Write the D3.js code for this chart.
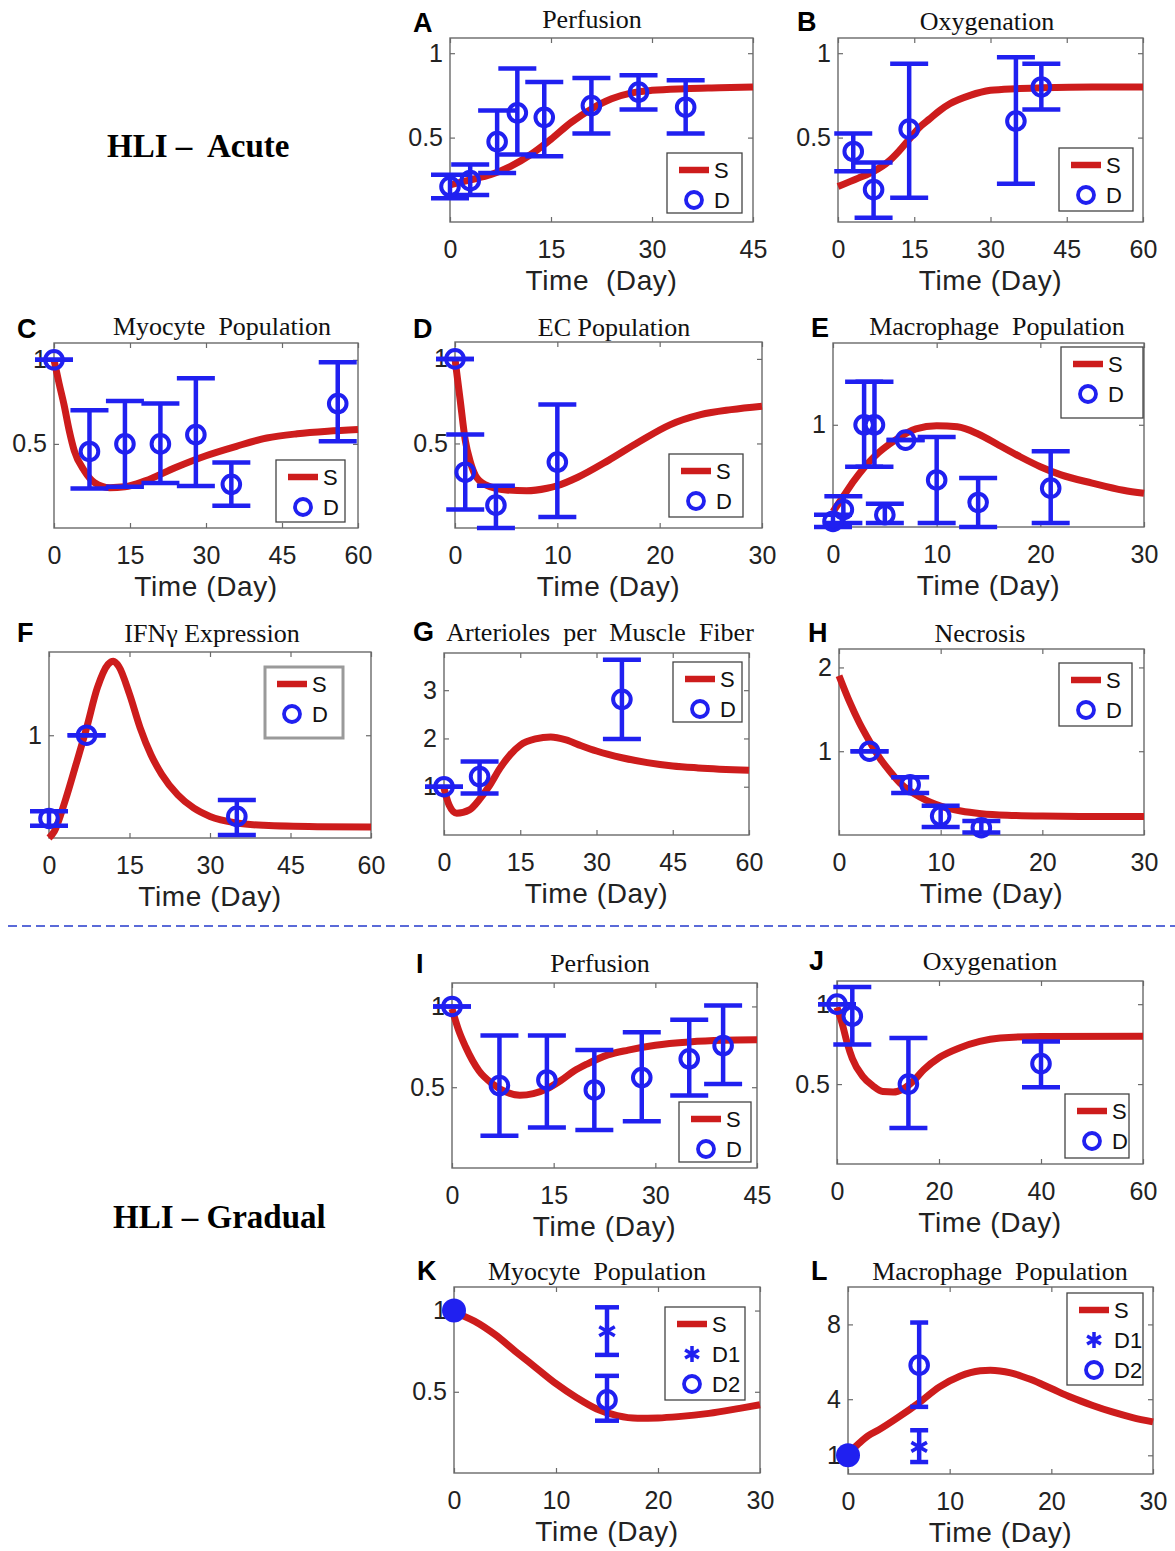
<!DOCTYPE html>
<html>
<head>
<meta charset="utf-8">
<script src="https://cdn.jsdelivr.net/npm/d3@7"></script>
<style>
  body { margin: 0; background: #fff; }
  svg text { white-space: pre; }
</style>
</head>
<body>
<svg id="fig" width="1175" height="1551"></svg>
<script>
/* global d3 */

// ---- data: simulation curves [day, value] and data points [day, mean, low, high] ----

var perfAcuteSim = [[0, 0.22], [3, 0.25], [6, 0.28], [9, 0.33], [12, 0.40], [15, 0.49], [18, 0.59],
  [21, 0.67], [24, 0.73], [27, 0.765], [30, 0.78], [35, 0.79], [40, 0.795], [45, 0.80]]
var perfAcuteData = [[0, 0.21, 0.14, 0.28], [3, 0.245, 0.16, 0.34], [7, 0.476, 0.29, 0.66],
  [10, 0.647, 0.40, 0.91], [14, 0.62, 0.39, 0.83], [21, 0.69, 0.525, 0.853],
  [28, 0.77, 0.667, 0.87], [35, 0.68, 0.525, 0.84]]

var oxyAcuteSim = [[0, 0.21], [4, 0.26], [7, 0.30], [10, 0.36], [12, 0.42], [14, 0.49], [16, 0.56],
  [18, 0.61], [20, 0.66], [22, 0.70], [26, 0.75], [30, 0.78], [35, 0.79], [40, 0.795], [50, 0.80], [60, 0.80]]
var oxyAcuteData = [[3, 0.418, 0.30, 0.525], [7, 0.192, 0.025, 0.353], [14, 0.55, 0.143, 0.937],
  [35, 0.598, 0.227, 0.976], [40, 0.80, 0.667, 0.937]]

var myoAcuteSim = [[0, 1.0], [1, 0.86], [2, 0.73], [3, 0.58], [4, 0.46], [6, 0.34], [8, 0.27], [11, 0.24],
  [14, 0.245], [18, 0.28], [24, 0.36], [30, 0.43], [36, 0.486], [42, 0.535], [48, 0.56], [54, 0.575], [60, 0.585]]
var myoAcuteData = [[0, 1, 1, 1], [7, 0.455, 0.235, 0.70], [14, 0.50, 0.245, 0.755], [21, 0.50, 0.267, 0.74],
  [28, 0.555, 0.25, 0.89], [35, 0.26, 0.133, 0.39], [56, 0.74, 0.516, 0.986]]

var ecAcuteSim = [[0, 1.0], [0.5, 0.76], [1, 0.52], [1.5, 0.39], [2, 0.31], [3, 0.255], [5, 0.225], [7, 0.22],
  [9, 0.235], [10, 0.25], [12, 0.30], [15, 0.40], [18, 0.51], [21, 0.61], [24, 0.67], [27, 0.70], [30, 0.72]]
var ecAcuteData = [[0, 1, 1, 1], [1, 0.33, 0.11, 0.553], [4, 0.135, 0, 0.25], [10, 0.39, 0.065, 0.73]]

var macAcuteSim = [[0, 0.15], [1, 0.30], [2, 0.45], [3, 0.58], [4, 0.69], [6, 0.85], [8, 0.96], [10, 0.99],
  [12, 0.98], [14, 0.91], [16, 0.80], [18, 0.69], [20, 0.59], [22, 0.51], [25, 0.43], [28, 0.36], [30, 0.33]]
var macAcuteData = [[0, 0.055, 0, 0.12], [1, 0.17, 0.04, 0.30], [3, 1.0, 0.59, 1.42], [4, 1.0, 0.59, 1.42],
  [5, 0.12, 0.04, 0.227], [7, 0.85, 0.85, 0.85], [10, 0.46, 0.04, 0.88], [14, 0.24, 0, 0.48], [21, 0.38, 0.04, 0.74]]

var ifnSim = [[0, 0], [1, 0.065], [3, 0.36], [5, 0.71], [7, 1.07], [9, 1.46], [11, 1.69], [12, 1.72], [13, 1.67],
  [15, 1.40], [17, 1.07], [19, 0.81], [21, 0.62], [24, 0.42], [27, 0.29], [30, 0.21], [35, 0.146], [40, 0.123],
  [50, 0.11], [60, 0.107]]
var ifnData = [[0, 0.19, 0.12, 0.26], [7, 1.0, 1.0, 1.0], [35, 0.21, 0.03, 0.37]]

var artSim = [[0, 0.97], [1, 0.62], [2.5, 0.45], [5, 0.52], [7, 0.74], [9, 1.03], [11, 1.38], [13, 1.66],
  [15, 1.86], [18, 1.99], [21, 2.03], [24, 1.97], [27, 1.85], [30, 1.74], [35, 1.60], [40, 1.50], [45, 1.43],
  [50, 1.39], [60, 1.34]]
var artData = [[0, 1.0, 1.0, 1.0], [7, 1.21, 0.86, 1.52], [35, 2.81, 1.99, 3.63]]

var necSim = [[0, 1.90], [1, 1.60], [2, 1.34], [3, 1.12], [4, 0.92], [5, 0.76], [6, 0.62], [8, 0.45],
  [10, 0.345], [12, 0.286], [14, 0.254], [17, 0.234], [20, 0.226], [25, 0.222], [30, 0.222]]
var necData = [[3, 1.0, 1.0, 1.0], [7, 0.60, 0.50, 0.69], [10, 0.226, 0.095, 0.35], [14, 0.087, 0.03, 0.167]]

var perfGradSim = [[0, 0.985], [1, 0.85], [2, 0.75], [4, 0.60], [6, 0.52], [8, 0.47], [10, 0.45], [12, 0.46],
  [14, 0.49], [16, 0.54], [18, 0.60], [20, 0.645], [23, 0.70], [26, 0.73], [30, 0.76], [35, 0.78], [40, 0.79], [45, 0.793]]
var perfGradData = [[0, 1, 1, 1], [7, 0.51, 0.20, 0.82], [14, 0.545, 0.25, 0.82], [21, 0.483, 0.235, 0.73],
  [28, 0.56, 0.29, 0.84], [35, 0.676, 0.448, 0.917], [40, 0.758, 0.52, 1.006]]

var oxyGradSim = [[0, 0.98], [1, 0.88], [2, 0.757], [3, 0.66], [5, 0.55], [7, 0.49], [9, 0.453], [11, 0.45],
  [13, 0.47], [15, 0.52], [17, 0.59], [20, 0.665], [24, 0.726], [28, 0.767], [32, 0.788], [40, 0.798], [60, 0.80]]
var oxyGradData = [[0, 1, 1, 1], [3, 0.926, 0.747, 1.107], [14, 0.50, 0.226, 0.788], [40, 0.628, 0.48, 0.767]]

var myoGradSim = [[0, 0.99], [2, 0.935], [4, 0.853], [6, 0.75], [8, 0.65], [10, 0.55], [12, 0.465], [14, 0.394],
  [16, 0.353], [18, 0.337], [20, 0.339], [22, 0.347], [25, 0.367], [28, 0.398], [30, 0.42]]
var myoGradD1 = [[15, 0.873, 0.727, 1.02]]
var myoGradD2 = [[15, 0.45, 0.322, 0.598]]
var myoGradInit = [[0, 1]]

var macGradSim = [[0, 1.09], [1, 1.6], [2, 2.05], [3, 2.35], [5, 3.05], [7, 3.82], [9, 4.66], [11, 5.23],
  [13, 5.52], [14, 5.55], [16, 5.41], [18, 5.05], [20, 4.57], [22, 4.09], [24, 3.68], [26, 3.32], [28, 3.02], [30, 2.79]]
var macGradD1 = [[7, 1.45, 0.64, 2.34]]
var macGradD2 = [[7, 5.82, 3.59, 8.1]]
var macGradInit = [[0, 1]]

// ---- styles ----
var RED = '#cd1c1c'
var BLUE = '#2020f0'
var AXIS = '#6a6a6a'
var SANS = 'Liberation Sans, Arial, sans-serif'
var SERIF = 'Liberation Serif, Times New Roman, serif'

var svg = d3.select('#fig')
svg.append('rect').attr('width', 1175).attr('height', 1551).attr('fill', '#fff')

// ---- panels: layout in pixels ----
var panels = [
  { id: 'A', title: 'Perfusion', xlab: 'Time  (Day)', left: 450, right: 753, top: 38, bottom: 222,
    xMax: 45, xTicks: [0, 15, 30, 45], yMax: 1.09, yTicks: [0.5, 1], titleX: 592, titleY: 28, letter: [413, 32],
    sim: perfAcuteSim, data: perfAcuteData, legend: [667, 153, 75, 60] },
  { id: 'B', title: 'Oxygenation', xlab: 'Time (Day)', left: 838, right: 1143, top: 38, bottom: 222,
    xMax: 60, xTicks: [0, 15, 30, 45, 60], yMax: 1.09, yTicks: [0.5, 1], titleX: 987, titleY: 30, letter: [797, 31],
    sim: oxyAcuteSim, data: oxyAcuteData, legend: [1059, 148, 74, 63] },
  { id: 'C', title: 'Myocyte  Population', xlab: 'Time (Day)', left: 54, right: 358, top: 343, bottom: 528,
    xMax: 60, xTicks: [0, 15, 30, 45, 60], yMax: 1.1, yTicks: [0.5, 1], titleX: 222, titleY: 335, letter: [17, 338],
    sim: myoAcuteSim, data: myoAcuteData, legend: [276, 460, 69, 62] },
  { id: 'D', title: 'EC Population', xlab: 'Time (Day)', left: 455, right: 762, top: 342, bottom: 528,
    xMax: 30, xTicks: [0, 10, 20, 30], yMax: 1.1, yTicks: [0.5, 1], titleX: 614, titleY: 336, letter: [413, 338],
    sim: ecAcuteSim, data: ecAcuteData, legend: [669, 454, 74, 63] },
  { id: 'E', title: 'Macrophage  Population', xlab: 'Time (Day)', left: 833, right: 1144, top: 343, bottom: 527,
    xMax: 30, xTicks: [0, 10, 20, 30], yMax: 1.8, yTicks: [1], titleX: 997, titleY: 335, letter: [811, 337],
    sim: macAcuteSim, data: macAcuteData, legend: [1061, 347, 82, 71] },
  { id: 'F', title: 'IFN\u03b3 Expression', xlab: 'Time (Day)', left: 49, right: 371, top: 652, bottom: 838,
    xMax: 60, xTicks: [0, 15, 30, 45, 60], yMax: 1.81, yTicks: [1], titleX: 212, titleY: 642, letter: [17, 642],
    sim: ifnSim, data: ifnData, legend: [265, 667, 78, 71], legendShadow: true },
  { id: 'G', title: 'Arterioles  per  Muscle  Fiber', xlab: 'Time (Day)', left: 444, right: 749, top: 653, bottom: 835,
    xMax: 60, xTicks: [0, 15, 30, 45, 60], yMax: 3.77, yTicks: [1, 2, 3], titleX: 600, titleY: 641, letter: [413, 641],
    sim: artSim, data: artData, legend: [673, 662, 69, 60] },
  { id: 'H', title: 'Necrosis', xlab: 'Time (Day)', left: 839, right: 1144, top: 649, bottom: 835,
    xMax: 30, xTicks: [0, 10, 20, 30], yMax: 2.22, yTicks: [1, 2], titleX: 980, titleY: 642, letter: [808, 642],
    sim: necSim, data: necData, legend: [1059, 663, 73, 63] },
  { id: 'I', title: 'Perfusion', xlab: 'Time (Day)', left: 452, right: 757, top: 983, bottom: 1168,
    xMax: 45, xTicks: [0, 15, 30, 45], yMax: 1.145, yTicks: [0.5, 1], titleX: 600, titleY: 972, letter: [416, 973],
    sim: perfGradSim, data: perfGradData, legend: [679, 1102, 72, 60] },
  { id: 'J', title: 'Oxygenation', xlab: 'Time (Day)', left: 837, right: 1143, top: 981, bottom: 1164,
    xMax: 60, xTicks: [0, 20, 40, 60], yMax: 1.145, yTicks: [0.5, 1], titleX: 990, titleY: 970, letter: [809, 970],
    sim: oxyGradSim, data: oxyGradData, legend: [1065, 1094, 64, 64] },
  { id: 'K', title: 'Myocyte  Population', xlab: 'Time (Day)', left: 454, right: 760, top: 1287, bottom: 1473,
    xMax: 30, xTicks: [0, 10, 20, 30], yMax: 1.145, yTicks: [0.5, 1], titleX: 597, titleY: 1280, letter: [417, 1280],
    sim: myoGradSim, d1: myoGradD1, d2: myoGradD2, init: myoGradInit, capHalf: 12, legend: [665, 1307, 80, 93] },
  { id: 'L', title: 'Macrophage  Population', xlab: 'Time (Day)', left: 848, right: 1153, top: 1287, bottom: 1474,
    xMax: 30, xTicks: [0, 10, 20, 30], yMax: 10, yTicks: [1, 4, 8], titleX: 1000, titleY: 1280, letter: [811, 1280],
    sim: macGradSim, d1: macGradD1, d2: macGradD2, init: macGradInit, capHalf: 9, legend: [1067, 1293, 76, 92] }
]

function asterisk (s) {
  var c = s * Math.cos(Math.PI / 6)
  var h = s * Math.sin(Math.PI / 6)
  return 'M0,' + (-s) + 'L0,' + s + 'M' + (-c) + ',' + (-h) + 'L' + c + ',' + h +
    'M' + (-c) + ',' + h + 'L' + c + ',' + (-h)
}

function styleAxis (g) {
  g.select('.domain').remove()
  g.selectAll('line').attr('stroke', AXIS).attr('stroke-width', 1.2)
  g.attr('font-family', SANS).attr('font-size', 25)
  g.selectAll('text').attr('fill', '#222')
}

function drawErrorBars (g, pts, x, y, half) {
  var bars = g.append('g').attr('stroke', BLUE).attr('stroke-width', 4.5).attr('fill', 'none')
  pts.forEach(function (d) {
    bars.append('line').attr('x1', x(d[0])).attr('x2', x(d[0])).attr('y1', y(d[2])).attr('y2', y(d[3]))
    bars.append('line').attr('x1', x(d[0]) - half).attr('x2', x(d[0]) + half).attr('y1', y(d[2])).attr('y2', y(d[2]))
    bars.append('line').attr('x1', x(d[0]) - half).attr('x2', x(d[0]) + half).attr('y1', y(d[3])).attr('y2', y(d[3]))
  })
}

function drawCircles (g, pts, x, y) {
  g.append('g').selectAll('circle').data(pts).enter().append('circle')
    .attr('cx', function (d) { return x(d[0]) })
    .attr('cy', function (d) { return y(d[1]) })
    .attr('r', 8.8)
    .attr('fill', 'none')
    .attr('stroke', BLUE)
    .attr('stroke-width', 4)
}

function drawStars (g, pts, x, y) {
  g.append('g').selectAll('path').data(pts).enter().append('path')
    .attr('transform', function (d) { return 'translate(' + x(d[0]) + ',' + y(d[1]) + ')' })
    .attr('d', asterisk(9))
    .attr('stroke', BLUE)
    .attr('stroke-width', 3.5)
}

function drawLegend (p) {
  var L = p.legend
  var lg = svg.append('g').attr('transform', 'translate(' + L[0] + ',' + L[1] + ')')
  lg.append('rect').attr('width', L[2]).attr('height', L[3]).attr('fill', '#fff')
    .attr('stroke', p.legendShadow ? '#9a9a9a' : '#444')
    .attr('stroke-width', p.legendShadow ? 3 : 1.3)
  var rows = p.d1 ? ['S', 'D1', 'D2'] : ['S', 'D']
  rows.forEach(function (name, i) {
    var cy = 17 + i * 30
    if (name === 'S') {
      lg.append('line').attr('x1', 12).attr('x2', 42).attr('y1', cy).attr('y2', cy)
        .attr('stroke', RED).attr('stroke-width', 6.5)
    } else if (name === 'D1') {
      lg.append('path').attr('transform', 'translate(27,' + cy + ')').attr('d', asterisk(8))
        .attr('stroke', BLUE).attr('stroke-width', 3.5)
    } else {
      lg.append('circle').attr('cx', 27).attr('cy', cy).attr('r', 8)
        .attr('fill', 'none').attr('stroke', BLUE).attr('stroke-width', 3.8)
    }
    lg.append('text').attr('x', 47).attr('y', cy + 8).text(name)
      .attr('font-family', SANS).attr('font-size', 22).attr('fill', '#111')
  })
}

function drawPanel (p) {
  var x = d3.scaleLinear().domain([0, p.xMax]).range([p.left, p.right])
  var y = d3.scaleLinear().domain([0, p.yMax]).range([p.bottom, p.top])
  var g = svg.append('g')

  // ticks on all four sides, MATLAB box style
  g.append('g').attr('transform', 'translate(0,' + p.bottom + ')')
    .call(d3.axisBottom(x).tickValues(p.xTicks).tickSize(-5).tickPadding(18).tickFormat(d3.format('d')))
    .call(styleAxis)
  g.append('g').attr('transform', 'translate(0,' + p.top + ')')
    .call(d3.axisTop(x).tickValues(p.xTicks).tickSize(-5).tickFormat(''))
    .call(styleAxis)
  g.append('g').attr('transform', 'translate(' + p.left + ',0)')
    .call(d3.axisLeft(y).tickValues(p.yTicks).tickSize(-5).tickPadding(7).tickFormat(d3.format('~g')))
    .call(styleAxis)
  g.append('g').attr('transform', 'translate(' + p.right + ',0)')
    .call(d3.axisRight(y).tickValues(p.yTicks).tickSize(-5).tickFormat(''))
    .call(styleAxis)

  g.append('rect').attr('x', p.left).attr('y', p.top)
    .attr('width', p.right - p.left).attr('height', p.bottom - p.top)
    .attr('fill', 'none').attr('stroke', AXIS).attr('stroke-width', 1.4)

  // titles and labels
  g.append('text').attr('x', p.titleX).attr('y', p.titleY).attr('text-anchor', 'middle')
    .attr('font-family', SERIF).attr('font-size', 26).attr('fill', '#111').text(p.title)
  g.append('text').attr('x', p.letter[0]).attr('y', p.letter[1])
    .attr('font-family', SANS).attr('font-weight', 'bold').attr('font-size', 27).attr('fill', '#000').text(p.id)
  g.append('text').attr('x', (p.left + p.right) / 2).attr('y', p.bottom + 68).attr('text-anchor', 'middle')
    .attr('font-family', SANS).attr('font-size', 28).attr('letter-spacing', 0.6).attr('fill', '#222').text(p.xlab)

  // simulation
  var line = d3.line()
    .x(function (d) { return x(d[0]) })
    .y(function (d) { return y(d[1]) })
    .curve(d3.curveMonotoneX)
  g.append('path').datum(p.sim).attr('d', line)
    .attr('fill', 'none').attr('stroke', RED).attr('stroke-width', 7)

  // data
  var half = p.capHalf || 19
  if (p.data) {
    drawErrorBars(g, p.data, x, y, half)
    drawCircles(g, p.data, x, y)
  }
  if (p.d1) {
    drawErrorBars(g, p.d1, x, y, half)
    drawStars(g, p.d1, x, y)
    drawErrorBars(g, p.d2, x, y, half)
    drawCircles(g, p.d2, x, y)
    g.selectAll('.init').data(p.init).enter().append('circle')
      .attr('cx', function (d) { return x(d[0]) })
      .attr('cy', function (d) { return y(d[1]) })
      .attr('r', 12)
      .attr('fill', BLUE)
  }

  drawLegend(p)
}

panels.forEach(drawPanel)

// section labels and separator
svg.append('text').attr('x', 107).attr('y', 157).text('HLI \u2013  Acute')
  .attr('font-family', SERIF).attr('font-weight', 'bold').attr('font-size', 33).attr('fill', '#000')
svg.append('text').attr('x', 113).attr('y', 1228).text('HLI \u2013 Gradual')
  .attr('font-family', SERIF).attr('font-weight', 'bold').attr('font-size', 33).attr('fill', '#000')
svg.append('line').attr('x1', 8).attr('x2', 1175).attr('y1', 926).attr('y2', 926)
  .attr('stroke', '#5a6ad8').attr('stroke-width', 2).attr('stroke-dasharray', '9,5')
</script>
</body>
</html>
